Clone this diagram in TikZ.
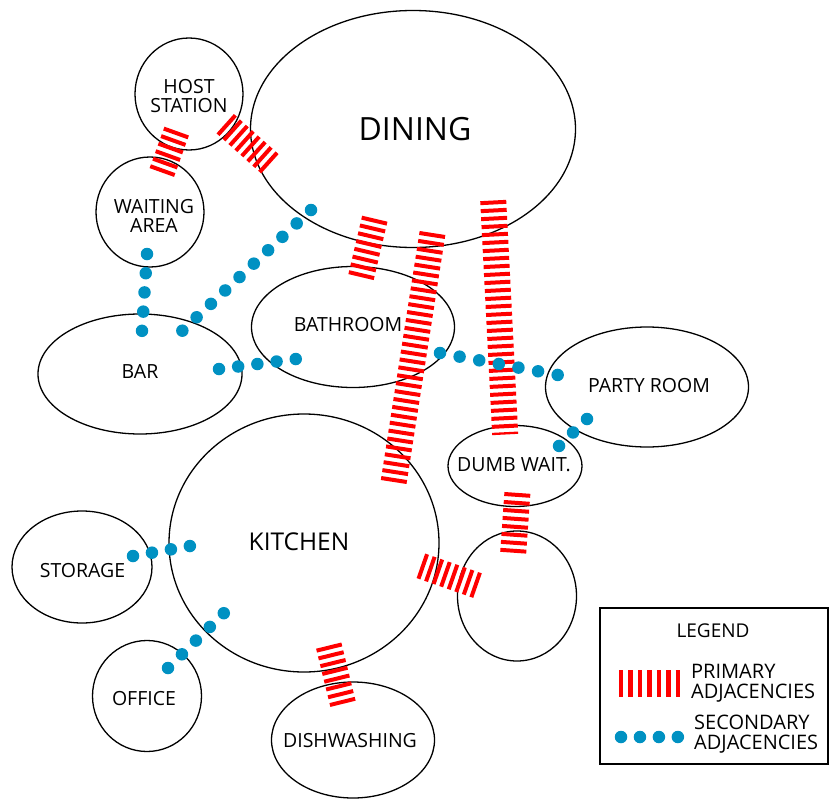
\documentclass[tikz,border=0pt]{standalone}
\usepackage{fontspec}
\setmainfont{Open Sans}
\usetikzlibrary{shapes.geometric}
\definecolor{adjblue}{RGB}{0,145,194}

\begin{document}
\begin{tikzpicture}[x=1pt, y=-1pt,
    room/.style={ellipse, draw, line width=1.3pt, inner sep=0pt, outer sep=0pt},
    roomtext/.style={inner sep=0pt, align=center, font=\fontsize{19.5}{19.5}\selectfont},
    legendtext/.style={inner sep=0pt, align=left, anchor=west, font=\fontsize{20}{20}\selectfont},
    primary/.style={draw=red, line width=26pt, dash pattern=on 4pt off 4pt},
    secondary/.style={draw=adjblue, line width=12.5pt, line cap=round, dash pattern=on 0pt off #1}]
    \useasboundingbox (0, 0) rectangle (830, 803);

    % 部屋
    \node[room, minimum width=108pt, minimum height=112pt] (host) at (189, 94) {};
    \node[room, minimum width=325pt, minimum height=237pt] (dining) at (413, 129) {};
    \node[room, minimum width=108pt, minimum height=110pt] (waiting) at (150, 212) {};
    \node[room, minimum width=204pt, minimum height=120pt] (bar) at (140, 374) {};
    \node[room, minimum width=203pt, minimum height=121pt] (bathroom) at (353, 327) {};
    \node[room, minimum width=203pt, minimum height=120pt] (party) at (647, 387) {};
    \node[room, minimum width=134pt, minimum height=81pt] (dumbwaiter) at (515, 466) {};
    \node[room, minimum width=270pt, minimum height=258pt] (kitchen) at (304, 543) {};
    \node[room, minimum width=119pt, minimum height=130pt] (extra) at (517, 596) {};
    \node[room, minimum width=140pt, minimum height=112pt] (storage) at (82, 567) {};
    \node[room, minimum width=109pt, minimum height=111pt] (office) at (147, 696) {};
    \node[room, minimum width=163pt, minimum height=116pt] (dish) at (353, 740) {};

    % 部屋の名前
    \node[roomtext] (hostname) at (189, 96) {HOST\\STATION};
    \node[roomtext, font=\fontsize{32}{32}\selectfont] (diningname) at (415, 129.5) {DINING};
    \node[roomtext] (waitingname) at (154, 216) {WAITING\\AREA};
    \node[roomtext] (barname) at (140, 372) {BAR};
    \node[roomtext] (bathroomname) at (348, 325) {BATHROOM};
    \node[roomtext] (partyname) at (649, 385.5) {PARTY ROOM};
    \node[roomtext] (dumbwaitername) at (514, 464.5) {DUMB WAIT.};
    \node[roomtext, font=\fontsize{24.5}{24.5}\selectfont] (kitchenname) at (299, 542) {KITCHEN};
    \node[roomtext] (storagename) at (82.5, 571) {STORAGE};
    \node[roomtext] (officename) at (144, 699) {OFFICE};
    \node[roomtext] (dishname) at (350, 741) {DISHWASHING};

    % 主な隣接
    \coordinate (hw1) at (176.7, 131.1);
    \coordinate (hw2) at (161.3, 173.9);
    \coordinate (hd1) at (225.2, 123.7);
    \coordinate (hd2) at (270.8, 164.6);
    \coordinate (db1) at (374.8, 218.7);
    \coordinate (db2) at (360.5, 279.3);
    \coordinate (dk1) at (432.5, 233.0);
    \coordinate (dk2) at (393.5, 483.0);
    \coordinate (dd1) at (493.2, 200.5);
    \coordinate (dd2) at (505.2, 434.5);
    \coordinate (de1) at (517.4, 492.9);
    \coordinate (de2) at (513.2, 552.7);
    \coordinate (ke1) at (420.9, 565.8);
    \coordinate (ke2) at (477.5, 585.6);
    \coordinate (kd1) at (328.7, 645.6);
    \coordinate (kd2) at (343.0, 703.8);
    \draw[primary] (hw1) -- (hw2);
    \draw[primary] (hd1) -- (hd2);
    \draw[primary] (db1) -- (db2);
    \draw[primary] (dk1) -- (dk2);
    \draw[primary] (dd1) -- (dd2);
    \draw[primary] (de1) -- (de2);
    \draw[primary] (ke1) -- (ke2);
    \draw[primary] (kd1) -- (kd2);

    % 副次的な隣接
    \coordinate (wb1) at (147, 254);
    \coordinate (wb2) at (142, 331);
    \coordinate (dr1) at (311, 210);
    \coordinate (dr2) at (182, 331);
    \coordinate (rb1) at (219, 369);
    \coordinate (rb2) at (296, 359);
    \coordinate (bp1) at (440, 353);
    \coordinate (bp2) at (558, 375);
    \coordinate (pd1) at (587, 419);
    \coordinate (pd2) at (559, 446);
    \coordinate (sk1) at (133, 556);
    \coordinate (sk2) at (190, 546);
    \coordinate (ok1) at (168, 668);
    \coordinate (ok2) at (224, 613);
    \draw[secondary=19.25pt] (wb1) -- (wb2);
    \draw[secondary=19.6pt] (dr1) -- (dr2);
    \draw[secondary=19.35pt] (rb1) -- (rb2);
    \draw[secondary=19.95pt] (bp1) -- (bp2);
    \draw[secondary=19.4pt] (pd1) -- (pd2);
    \draw[secondary=19.25pt] (sk1) -- (sk2);
    \draw[secondary=19.55pt] (ok1) -- (ok2);

    % 凡例
    \node[draw, line width=1.3pt, inner sep=0pt, minimum width=228pt, minimum height=156pt] (legend) at (714, 686) {};
    \node[inner sep=0pt, font=\fontsize{19}{19}\selectfont] (legendtitle) at (713, 630.5) {LEGEND};
    \coordinate (lp1) at (619, 683.5);
    \coordinate (lp2) at (680, 683.5);
    \draw[primary, line width=27pt, dash pattern=on 4.3pt off 5.15pt] (lp1) -- (lp2);
    \node[legendtext] (primarytext) at (691, 683) {PRIMARY\\ADJACENCIES};
    \coordinate (ls1) at (621, 737);
    \coordinate (ls2) at (678, 737);
    \draw[secondary=18.95pt] (ls1) -- (ls2);
    \node[legendtext] (secondarytext) at (694, 734.5) {SECONDARY\\ADJACENCIES};
\end{tikzpicture}
\end{document}
